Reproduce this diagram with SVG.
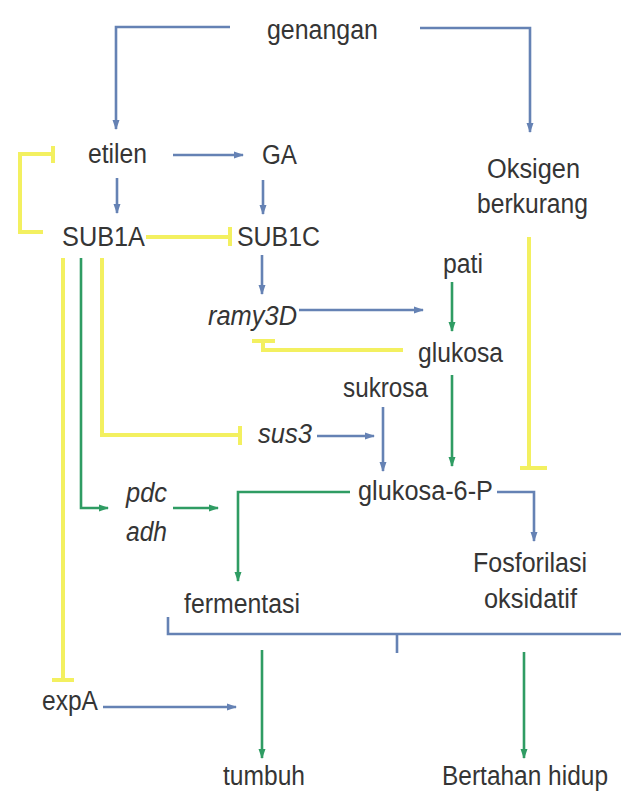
<svg xmlns="http://www.w3.org/2000/svg" width="621" height="798" viewBox="0 0 621 798">
<defs>
<style>
text{font-family:"Liberation Sans",Arial,sans-serif;font-size:27px;fill:#353535}
.i{font-style:italic}
.c{fill:none;stroke-linejoin:miter}
.b{stroke:#6582b4;stroke-width:2.6}
.g{stroke:#2f9c63;stroke-width:2.6}
.y{stroke:#f3f060;stroke-width:4}
.ab{marker-end:url(#mb)}
.ag{marker-end:url(#mg)}
</style>
<marker id="mb" markerUnits="userSpaceOnUse" markerWidth="10" markerHeight="8" refX="9" refY="4" orient="auto"><path d="M0,0.5 L10,4 L0,7.5 z" fill="#6582b4"/></marker>
<marker id="mg" markerUnits="userSpaceOnUse" markerWidth="10" markerHeight="8" refX="9" refY="4" orient="auto"><path d="M0,0.5 L10,4 L0,7.5 z" fill="#2f9c63"/></marker>
</defs>
<rect width="621" height="798" fill="#ffffff"/>
<g id="connectors">
<path class="c b ab" d="M230,27 H116 V129"/>
<path class="c b ab" d="M420,28 H530 V132"/>
<path class="c b ab" d="M173,155 H243"/>
<path class="c b ab" d="M117,178 V213"/>
<path class="c b ab" d="M263,180 V214"/>
<path class="c b ab" d="M262,255 V294"/>
<path class="c b ab" d="M299,310 H423"/>
<path class="c b ab" d="M317,436 H374"/>
<path class="c b ab" d="M383,407 V471"/>
<path class="c b ab" d="M497,492 H534 V541"/>
<path class="c b ab" d="M103,707 H236"/>
<path class="c b" d="M168,617 V634 H621 M397,634 V653"/>
<path class="c g ag" d="M452,282 V331"/>
<path class="c g ag" d="M452,375 V466"/>
<path class="c g ag" d="M81,258 V508 H108"/>
<path class="c g ag" d="M173,508 H218"/>
<path class="c g ag" d="M350,492 H238 V581"/>
<path class="c g ag" d="M262,650 V758"/>
<path class="c g ag" d="M524,652 V758"/>
<path class="c y" d="M43,232 H20 V154 H53 M53,146 V163"/>
<path class="c y" d="M146,237 H230 M230,227 V246"/>
<path class="c y" d="M403,350 H263 V341 M252,341 H275"/>
<path class="c y" d="M102,258 V435 H240 M240,426 V445"/>
<path class="c y" d="M63,258 V680 M52,680 H74"/>
<path class="c y" d="M529,237 V468 M520,468 H547"/>
</g>
<g id="genangan"><text x="267" y="39" textLength="111" lengthAdjust="spacingAndGlyphs">genangan</text></g>
<g id="etilen"><text x="88" y="163" textLength="59" lengthAdjust="spacingAndGlyphs">etilen</text></g>
<g id="GA"><text x="262" y="164" textLength="35" lengthAdjust="spacingAndGlyphs">GA</text></g>
<g id="oksigen"><text x="487" y="178" textLength="93" lengthAdjust="spacingAndGlyphs">Oksigen</text><text x="477" y="213" textLength="111" lengthAdjust="spacingAndGlyphs">berkurang</text></g>
<g id="SUB1A"><text x="62" y="246" textLength="83" lengthAdjust="spacingAndGlyphs">SUB1A</text></g>
<g id="SUB1C"><text x="237" y="246" textLength="83" lengthAdjust="spacingAndGlyphs">SUB1C</text></g>
<g id="pati"><text x="443" y="273" textLength="40" lengthAdjust="spacingAndGlyphs">pati</text></g>
<g id="ramy3D"><text class="i" x="208" y="325" textLength="89" lengthAdjust="spacingAndGlyphs">ramy3D</text></g>
<g id="glukosa"><text x="418" y="362" textLength="85" lengthAdjust="spacingAndGlyphs">glukosa</text></g>
<g id="sukrosa"><text x="343" y="397" textLength="85" lengthAdjust="spacingAndGlyphs">sukrosa</text></g>
<g id="sus3"><text class="i" x="258" y="443" textLength="54" lengthAdjust="spacingAndGlyphs">sus3</text></g>
<g id="glukosa6P"><text x="358" y="500" textLength="135" lengthAdjust="spacingAndGlyphs">glukosa-6-P</text></g>
<g id="pdcadh"><text class="i" x="126" y="502" textLength="41" lengthAdjust="spacingAndGlyphs">pdc</text><text class="i" x="126" y="541" textLength="41" lengthAdjust="spacingAndGlyphs">adh</text></g>
<g id="fermentasi"><text x="184" y="613" textLength="116" lengthAdjust="spacingAndGlyphs">fermentasi</text></g>
<g id="fosforilasi"><text x="473" y="572" textLength="114" lengthAdjust="spacingAndGlyphs">Fosforilasi</text><text x="484" y="608" textLength="93" lengthAdjust="spacingAndGlyphs">oksidatif</text></g>
<g id="expA"><text x="42" y="710" textLength="56" lengthAdjust="spacingAndGlyphs">expA</text></g>
<g id="tumbuh"><text x="223" y="785" textLength="82" lengthAdjust="spacingAndGlyphs">tumbuh</text></g>
<g id="bertahan"><text x="442" y="785" font-size="23.5" textLength="166" lengthAdjust="spacingAndGlyphs">Bertahan hidup</text></g>
</svg>
